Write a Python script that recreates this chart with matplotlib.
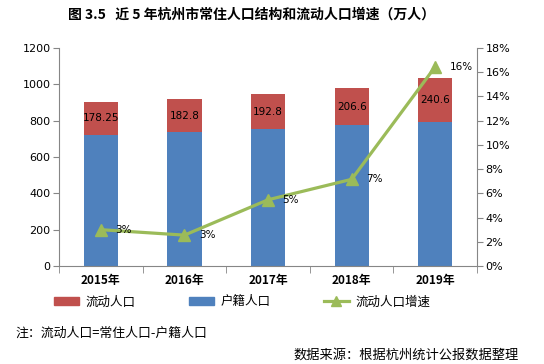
import numpy as np
import matplotlib
matplotlib.use("Agg")
import matplotlib.pyplot as plt
from matplotlib.lines import Line2D
from matplotlib.patches import Patch

# ---- data (万人) ----
years = ["2015年", "2016年", "2017年", "2018年", "2019年"]
huji = [723.55, 736.0, 754.0, 774.0, 795.4]          # 户籍人口
liudong = [178.25, 182.8, 192.8, 206.6, 240.6]       # 流动人口
liudong_labels = ["178.25", "182.8", "192.8", "206.6", "240.6"]
growth = [3.0, 2.55, 5.47, 7.16, 16.46]              # 流动人口增速 (%)
growth_labels = ["3%", "3%", "5%", "7%", "16%"]

cjk = ["Noto Sans CJK SC", "DejaVu Sans"]
red, blue, green = "#C0504D", "#4F81BD", "#9BBB59"
grey = "#868686"

fig = plt.figure(figsize=(5.44, 3.64), dpi=100)
ax = fig.add_axes([0.1085, 0.2692, 0.7685, 0.5988])
x = np.arange(len(years))

ax.bar(x, huji, width=0.41, color=blue, zorder=2)
ax.bar(x, liudong, width=0.41, bottom=huji, color=red, zorder=2)
for i in range(len(x)):
    ax.text(x[i], huji[i] + liudong[i] / 2, liudong_labels[i], ha="center", va="center",
            fontsize=7.5, color="black", zorder=3)

ax.set_xlim(-0.5, len(years) - 0.5)
ax.set_ylim(0, 1200)
ax.set_yticks(range(0, 1201, 200))
ax.set_xticks(x)
ax.set_xticklabels(years, fontfamily=cjk, fontweight="bold", fontsize=8.5)
ax.set_xticks(np.arange(-0.5, len(years), 1), minor=True)
ax.tick_params(axis="x", which="major", length=0, pad=6)
ax.tick_params(axis="x", which="minor", length=5, color=grey, direction="out")
ax.tick_params(axis="y", labelsize=8, length=4, color=grey, direction="out", pad=2)
for s in ["top", "right"]:
    ax.spines[s].set_visible(False)
for s in ["left", "bottom"]:
    ax.spines[s].set_color(grey)

# ---- secondary axis: growth rate ----
ax2 = ax.twinx()
ax2.plot(x, growth, color=green, lw=2.3, marker="^", markersize=9, zorder=4)
for i in range(len(x)):
    ax2.text(x[i] + 0.17, growth[i], growth_labels[i], ha="left", va="center",
             fontsize=7.5, zorder=5)
ax2.set_ylim(0, 18)
ax2.set_yticks(range(0, 19, 2))
ax2.set_yticklabels([f"{v}%" for v in range(0, 19, 2)])
ax2.tick_params(axis="y", labelsize=8, length=4, color=grey, direction="out", pad=2)
for s in ["top", "left", "bottom"]:
    ax2.spines[s].set_visible(False)
ax2.spines["right"].set_color(grey)

# ---- title / legend / notes ----
fig.text(252 / 544, 1 - 15 / 364, "图 3.5   近 5 年杭州市常住人口结构和流动人口增速（万人）",
         ha="center", va="center", fontfamily=cjk, fontweight="bold", fontsize=10)

handles = [Patch(color=red), Patch(color=blue),
           Line2D([], [], color=green, lw=2.3, marker="^", markersize=7)]
fig.legend(handles, ["流动人口", "户籍人口", "流动人口增速"], ncol=3, frameon=False,
           loc="center", bbox_to_anchor=(0.445, 1 - 302 / 364), prop={"family": cjk, "size": 9},
           handlelength=2.0, handleheight=0.6, columnspacing=4.3, handletextpad=0.5)

fig.text(15 / 544, 1 - 333 / 364, "注：流动人口=常住人口-户籍人口", ha="left", va="center",
         fontfamily=cjk, fontsize=9.3)
fig.text(519 / 544, 1 - 355 / 364, "数据来源：根据杭州统计公报数据整理", ha="right", va="center",
         fontfamily=cjk, fontsize=9.5)

fig.savefig("out.png", dpi=100)
